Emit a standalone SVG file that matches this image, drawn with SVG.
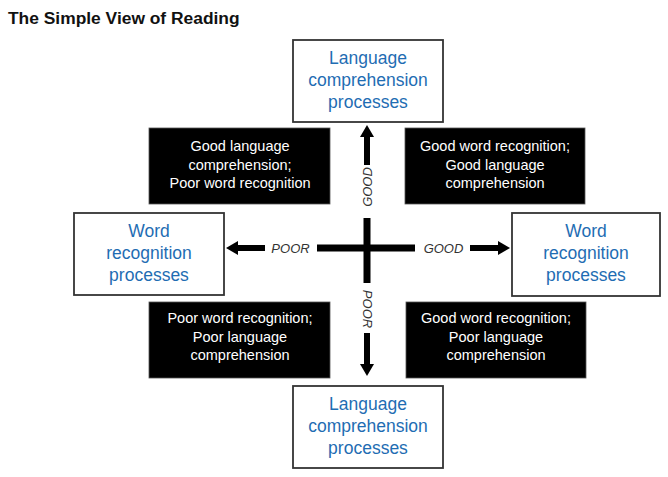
<svg xmlns="http://www.w3.org/2000/svg" width="668" height="477" viewBox="0 0 668 477">
  <style>
    .title { font-family: "Liberation Sans", Arial, sans-serif; font-size: 17.4px; font-weight: bold; fill: #111; }
    .wbox { fill: #fff; stroke: #333; stroke-width: 1.8; }
    .wtxt { font-family: "Liberation Sans", Arial, sans-serif; font-size: 17.5px; fill: #1f6db3; text-anchor: middle; }
    .bbox { fill: #000; stroke: #555; stroke-width: 0.8; }
    .btxt { font-family: "Liberation Sans", Arial, sans-serif; font-size: 14.5px; fill: #fff; text-anchor: middle; }
    .lbl { font-family: "Liberation Sans", Arial, sans-serif; font-size: 13px; font-style: italic; fill: #333; text-anchor: middle; }
    .bar { stroke: #000; stroke-width: 7; }
    .arr { stroke: #000; stroke-width: 6; marker-end: url(#head); }
  </style>
  <defs>
    <marker id="head" markerUnits="userSpaceOnUse" markerWidth="12" markerHeight="14" refX="0" refY="7" orient="auto">
      <path d="M0,0 L12,7 L0,14 z" fill="#000"/>
    </marker>
  </defs>

  <text class="title" x="8" y="24">The Simple View of Reading</text>

  <g id="lang-top">
    <rect class="wbox" x="293" y="40" width="150" height="82"/>
    <text class="wtxt" x="368" y="63.5">Language</text>
    <text class="wtxt" x="368" y="85.5">comprehension</text>
    <text class="wtxt" x="368" y="107.5">processes</text>
  </g>

  <g id="lang-bottom">
    <rect class="wbox" x="293" y="386" width="150" height="82"/>
    <text class="wtxt" x="368" y="409.5">Language</text>
    <text class="wtxt" x="368" y="431.5">comprehension</text>
    <text class="wtxt" x="368" y="453.5">processes</text>
  </g>

  <g id="word-left">
    <rect class="wbox" x="74" y="213" width="150" height="82"/>
    <text class="wtxt" x="149" y="237">Word</text>
    <text class="wtxt" x="149" y="259">recognition</text>
    <text class="wtxt" x="149" y="281">processes</text>
  </g>

  <g id="word-right">
    <rect class="wbox" x="512" y="213" width="148" height="83"/>
    <text class="wtxt" x="586" y="237">Word</text>
    <text class="wtxt" x="586" y="259">recognition</text>
    <text class="wtxt" x="586" y="281">processes</text>
  </g>

  <g id="quad-tl">
    <rect class="bbox" x="149" y="128" width="181" height="76"/>
    <text class="btxt" x="240" y="151">Good language</text>
    <text class="btxt" x="240" y="169.5">comprehension;</text>
    <text class="btxt" x="240" y="188">Poor word recognition</text>
  </g>

  <g id="quad-tr">
    <rect class="bbox" x="405" y="128" width="180" height="76"/>
    <text class="btxt" x="495" y="151">Good word recognition;</text>
    <text class="btxt" x="495" y="169.5">Good language</text>
    <text class="btxt" x="495" y="188">comprehension</text>
  </g>

  <g id="quad-bl">
    <rect class="bbox" x="149" y="302" width="181" height="76"/>
    <text class="btxt" x="240" y="323">Poor word recognition;</text>
    <text class="btxt" x="240" y="341.5">Poor language</text>
    <text class="btxt" x="240" y="360">comprehension</text>
  </g>

  <g id="quad-br">
    <rect class="bbox" x="406" y="302" width="180" height="76"/>
    <text class="btxt" x="496" y="323">Good word recognition;</text>
    <text class="btxt" x="496" y="341.5">Poor language</text>
    <text class="btxt" x="496" y="360">comprehension</text>
  </g>

  <g id="connectors">
    <line class="bar" x1="367" y1="218" x2="367" y2="283"/>
    <line class="bar" x1="317" y1="248" x2="415" y2="248"/>
    <line class="arr" x1="367" y1="165" x2="367" y2="137"/>
    <line class="arr" x1="367" y1="333" x2="367" y2="364"/>
    <line class="arr" x1="265" y1="248" x2="238" y2="248"/>
    <line class="arr" x1="470" y1="248" x2="498" y2="248"/>
    <text class="lbl" x="290.5" y="252.5">POOR</text>
    <text class="lbl" x="443.5" y="252.5">GOOD</text>
    <text class="lbl" transform="translate(371.5,187) rotate(-90)">GOOD</text>
    <text class="lbl" transform="translate(362.5,309) rotate(90)">POOR</text>
  </g>
</svg>
